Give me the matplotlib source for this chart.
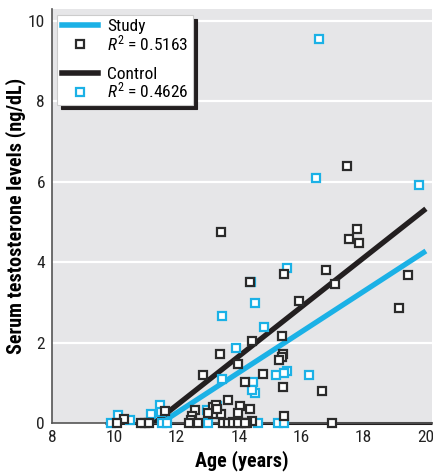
import numpy as np
import matplotlib
matplotlib.use('Agg')
import matplotlib.pyplot as plt
from matplotlib import font_manager as fm
from matplotlib.lines import Line2D
from matplotlib.legend_handler import HandlerLine2D

# pick a narrow sans if one is installed
names = {f.name for f in fm.fontManager.ttflist}
family = 'Roboto'
for cand in ['Liberation Sans Narrow', 'Roboto Condensed', 'Open Sans Condensed',
             'Noto Sans Condensed', 'Roboto', 'Liberation Sans']:
    if cand in names:
        family = cand
        break
plt.rcParams['font.family'] = [family, 'DejaVu Sans']
plt.rcParams['font.stretch'] = 'condensed'
plt.rcParams['mathtext.fontset'] = 'custom'
plt.rcParams['mathtext.rm'] = family
plt.rcParams['mathtext.it'] = family + ':italic'

# black squares (legend: Study)
study_x = [13.41, 17.47, 17.79, 17.54, 17.86, 16.80, 15.46, 17.09, 19.42, 15.94,
           14.34, 14.43, 15.39, 13.38, 19.14, 15.42, 15.39, 15.42, 16.67, 15.46,
           16.99, 13.98, 15.30, 12.86, 14.78, 14.21, 13.66, 14.05, 14.34, 13.98,
           13.18, 13.18, 13.41, 14.43, 13.82, 13.50, 14.08, 14.27, 11.62, 12.60,
           12.50, 13.02, 12.47, 12.40, 12.70, 10.30, 10.98, 10.85, 11.10, 10.10,
           13.66, 13.82, 13.98, 14.21, 13.28, 13.31]
study_y = [4.75, 6.39, 4.83, 4.58, 4.48, 3.81, 3.71, 3.46, 3.68, 3.03,
           3.51, 2.04, 2.16, 1.72, 2.86, 1.72, 1.64, 0.90, 0.80, 0.17,
           0.00, 1.47, 1.57, 1.19, 1.22, 1.02, 0.57, 0.42, 0.35, 0.25,
           0.40, 0.22, 0.22, 0.05, 0.02, 0.00, 0.00, 0.00, 0.30, 0.32,
           0.17, 0.25, 0.07, 0.00, 0.00, 0.10, 0.00, 0.00, 0.00, 0.00,
           0.00, 0.00, 0.00, 0.00, 0.45, 0.35]

# cyan squares (legend: Control)
control_x = [16.58, 16.48, 19.78, 15.55, 14.40, 14.53, 13.47, 14.82, 13.92, 13.47,
             14.46, 14.50, 14.43, 15.20, 15.55, 15.46, 16.26, 12.96, 13.31, 13.31,
             13.02, 14.62, 15.26, 15.46, 10.11, 10.50, 11.17, 11.46, 11.50, 13.25,
             9.90, 11.52, 11.68]
control_y = [9.55, 6.09, 5.92, 3.86, 3.51, 2.99, 2.66, 2.39, 1.87, 1.09,
             1.02, 0.75, 0.82, 1.19, 1.29, 1.24, 1.19, 0.32, 0.42, 0.22,
             0.00, 0.00, 0.00, 0.00, 0.20, 0.07, 0.22, 0.45, 0.27, 0.42,
             0.00, 0.00, 0.00]

# regression lines
study_fit_x = [11.50, 20.0]
study_fit_y = [0.0, 4.28]
control_fit_x = [11.28, 20.0]
control_fit_y = [0.0, 5.33]

study_r2 = '0.5163'
control_r2 = '0.4626'

cyan = '#1bb1e6'
dark = '#231f20'

fig = plt.figure(figsize=(4.33, 4.75), dpi=100)
ax = fig.add_axes([0.120, 0.1095, 0.878, 0.8715])
ax.set_facecolor('#e6e6e8')

ax.set_xlim(8, 20.2)
ax.set_ylim(0, 10.3)
ax.set_xticks([8, 10, 12, 14, 16, 18, 20])
ax.set_yticks([0, 2, 4, 6, 8, 10])
for v in [2, 4, 6, 8, 10]:
    ax.axhline(v, color='white', lw=1.6, zorder=0)

ax.hlines(0, 9.7, 20.2, color=dark, lw=2.2, zorder=2, clip_on=False)

ax.plot(study_fit_x, study_fit_y, color=cyan, lw=3.8, solid_capstyle='butt', zorder=3)
ax.plot(control_fit_x, control_fit_y, color=dark, lw=3.8, solid_capstyle='butt', zorder=3)

ax.plot(control_x, control_y, ls='none', marker='s', ms=5.3, mfc='white',
        mec=cyan, mew=1.6, zorder=4, clip_on=False)
ax.plot(study_x, study_y, ls='none', marker='s', ms=5.3, mfc='white',
        mec='#2b2b2b', mew=1.6, zorder=5, clip_on=False)

for s in ['top', 'right']:
    ax.spines[s].set_visible(False)
ax.spines['left'].set_color('#555555')
ax.spines['bottom'].set_color('#555555')
ax.spines['left'].set_linewidth(1.2)
ax.spines['bottom'].set_linewidth(1.2)
ax.tick_params(length=0, labelsize=12.5, colors='#222222', pad=5)

ax.set_xlabel('Age (years)', fontsize=14.5, fontweight='bold', labelpad=4)
ax.set_ylabel('Serum testosterone levels (ng/dL)', fontsize=14.5,
              fontweight='bold', labelpad=1)


class RightMarker(HandlerLine2D):
    def get_xdata(self, legend, xdescent, ydescent, width, height, fontsize):
        xd = np.array([-xdescent, -xdescent + width])
        return xd, np.array([-xdescent + width - 0.35 * fontsize])


h_study = Line2D([], [], color=cyan, lw=4)
h_study_m = Line2D([], [], ls='none', marker='s', ms=5.3, mfc='white',
                   mec='#2b2b2b', mew=1.6)
h_blank = Line2D([], [], ls='none')
h_control = Line2D([], [], color=dark, lw=4)
h_control_m = Line2D([], [], ls='none', marker='s', ms=5.3, mfc='white',
                     mec=cyan, mew=1.6)

leg = ax.legend([h_study, h_study_m, h_blank, h_control, h_control_m],
                ['Study', '$R^2$ = ' + study_r2, ' ', 'Control', '$R^2$ = ' + control_r2],
                handler_map={h_study_m: RightMarker(), h_control_m: RightMarker()},
                loc='upper left', bbox_to_anchor=(0.005, 0.995), fontsize=12.5,
                handlelength=2.1, handletextpad=0.5, labelspacing=-0.05,
                borderpad=0.25, borderaxespad=0.2, fancybox=False, framealpha=1,
                shadow={'color': '#231f20', 'alpha': 1, 'ox': 3, 'oy': -3})
leg.get_frame().set_edgecolor('#cccccc')
leg.get_frame().set_linewidth(0.8)
leg.set_zorder(10)

fig.savefig('out.png', dpi=100)
